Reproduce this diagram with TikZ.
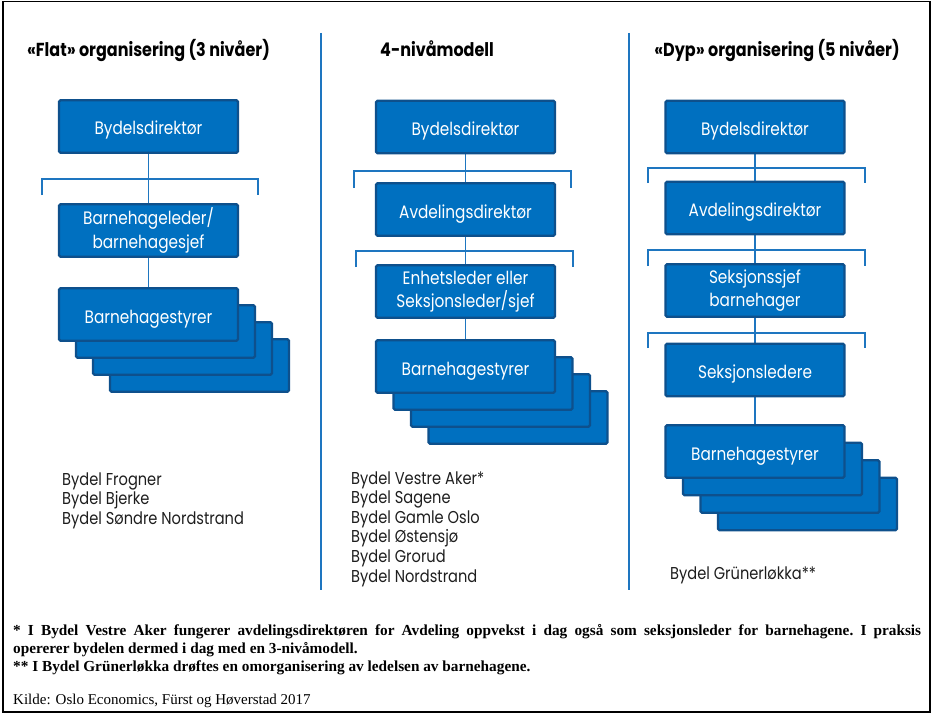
\documentclass[tikz,border=0pt]{standalone}
\usepackage{fontspec}
\usetikzlibrary{backgrounds}
\setmainfont{Liberation Serif}
\newfontfamily\futf{Poppins}[FakeStretch=0.85]
\newcommand\bxfont{\futf\fontsize{18}{23.5}\selectfont}
\newcommand\ttlfont{\futf\bfseries\fontsize{18.8}{20}\selectfont}
\newcommand\lstfont{\futf\fontsize{17.2}{19.5}\selectfont}
\newcommand\ntfont{\frenchspacing\bfseries\fontsize{15.3}{18}\selectfont}
\newcommand\kdfont{\fontsize{15}{18}\selectfont}
\definecolor{boxfill}{RGB}{0,112,192}
\definecolor{boxline}{RGB}{14,80,140}
\definecolor{connc}{RGB}{30,118,192}
\definecolor{listc}{RGB}{30,30,30}
\begin{document}
\begin{tikzpicture}[x=1pt,y=-1pt,
  boxbase/.style={draw=boxline, fill=boxfill, line width=2.4pt, rounded corners=1.5pt,
    minimum width=179pt, minimum height=52.5pt, inner sep=0pt, text=white,
    font=\bxfont, align=center},
  box/.style={boxbase, text height=19pt, text depth=2pt},
  boxtwo/.style={boxbase},
  conn/.style={draw=connc, line width=1.8pt},
  sep/.style={draw=connc, line width=1.3pt},
  ttl/.style={font=\ttlfont, inner sep=0pt, anchor=base},
  lst/.style={font=\lstfont, text=listc, inner sep=0pt, anchor=base west},
  note/.style={font=\ntfont, inner sep=0pt, anchor=base west},
  kilde/.style={font=\kdfont, inner sep=0pt, anchor=base west}]
\useasboundingbox (0,0) rectangle (933,714);
\draw[black, line width=1.4pt] (3,1.5) rectangle (930,712);

% separators
\coordinate (s1t) at (321,33); \coordinate (s1b) at (321,590);
\coordinate (s2t) at (629,33); \coordinate (s2b) at (629,590);
\draw[sep] (s1t) -- (s1b);
\draw[sep] (s2t) -- (s2b);

% titles
\node[ttl] (t1) at (148.5,57) {«Flat» organisering (3 nivåer)};
\node[ttl] (t2) at (437,57) {4-nivåmodell};
\node[ttl] (t3) at (777,57) {«Dyp» organisering (5 nivåer)};

% column 1
\node[box] (a1) at (148.5,126.5) {Bydelsdirektør};
\node[boxtwo] (a2) at (148.5,230.5) {Barnehageleder/\\barnehagesjef};
\node[box] (a3z) at (199.5,365.5) {};
\node[box] (a3y) at (182.5,348.5) {};
\node[box] (a3x) at (165.5,331.5) {};
\node[box] (a3) at (148.5,314.5) {Barnehagestyrer};

% column 2
\node[box] (b1) at (465.5,127) {Bydelsdirektør};
\node[box] (b2) at (465.5,209.5) {Avdelingsdirektør};
\node[boxtwo] (b3) at (465.5,291.5) {Enhetsleder eller\\Seksjonsleder/sjef};
\node[box] (b4z) at (518,417.5) {};
\node[box] (b4y) at (500.5,400.5) {};
\node[box] (b4x) at (483,383.5) {};
\node[box] (b4) at (465.5,366.5) {Barnehagestyrer};

% column 3
\node[box] (c1) at (755,127) {Bydelsdirektør};
\node[box] (c2) at (755,208) {Avdelingsdirektør};
\node[boxtwo] (c3) at (755,290.5) {Seksjonssjef\\barnehager};
\node[box] (c4) at (755,370) {Seksjonsledere};
\node[box] (c5z) at (807.5,504) {};
\node[box] (c5y) at (790,486.5) {};
\node[box] (c5x) at (772.5,469) {};
\node[box] (c5) at (755,451.5) {Barnehagestyrer};

% bracket coordinates
\coordinate (a12l) at (42,195); \coordinate (a12m) at (148.5,179); \coordinate (a12r) at (258,195);
\coordinate (b12l) at (354,188); \coordinate (b12m) at (465.5,171); \coordinate (b12r) at (571,188);
\coordinate (b23l) at (356,267); \coordinate (b23m) at (465.5,251); \coordinate (b23r) at (573,267);
\coordinate (c12l) at (648,183); \coordinate (c12m) at (755,168); \coordinate (c12r) at (865,183);
\coordinate (c23l) at (648,266); \coordinate (c23m) at (755,250); \coordinate (c23r) at (865,266);
\coordinate (c34l) at (648,348); \coordinate (c34m) at (755,333); \coordinate (c34r) at (865,348);

\begin{scope}[on background layer]
  \draw[conn] (a1.south) -- (a2.north);
  \draw[conn] (a2.south) -- (a3.north);
  \draw[conn] (a12l) |- (a12m) -| (a12r);
  \draw[conn] (b1.south) -- (b2.north);
  \draw[conn] (b2.south) -- (b3.north);
  \draw[conn] (b3.south) -- (b4.north);
  \draw[conn] (b12l) |- (b12m) -| (b12r);
  \draw[conn] (b23l) |- (b23m) -| (b23r);
  \draw[conn] (c1.south) -- (c2.north);
  \draw[conn] (c2.south) -- (c3.north);
  \draw[conn] (c3.south) -- (c4.north);
  \draw[conn] (c4.south) -- (c5.north);
  \draw[conn] (c12l) |- (c12m) -| (c12r);
  \draw[conn] (c23l) |- (c23m) -| (c23r);
  \draw[conn] (c34l) |- (c34m) -| (c34r);
\end{scope}

% lists
\foreach \t [count=\i] in {Bydel Frogner, Bydel Bjerke, Bydel Søndre Nordstrand}
  \node[lst] (la\i) at ({62},{485+19.5*(\i-1)}) {\t};
\foreach \t [count=\i] in {Bydel Vestre Aker*, Bydel Sagene, Bydel Gamle Oslo, Bydel Østensjø, Bydel Grorud, Bydel Nordstrand}
  \node[lst] (lb\i) at ({351},{484+19.6*(\i-1)}) {\t};
\node[lst] (lc1) at (670,579) {Bydel Grünerløkka**};

% notes
\node[note] (n1) at (13,635) {\makebox[908pt][s]{* I Bydel Vestre Aker fungerer avdelingsdirektøren for Avdeling oppvekst i dag også som seksjonsleder for barnehagene. I praksis}};
\node[note] (n2) at (13,653) {opererer bydelen dermed i dag med en 3-nivåmodell.};
\node[note] (n3) at (13,671) {** I Bydel Grünerløkka drøftes en omorganisering av ledelsen av barnehagene.};
\node[kilde] (n4) at (13,704) {Kilde: Oslo Economics, Fürst og Høverstad 2017};
\end{tikzpicture}
\end{document}
